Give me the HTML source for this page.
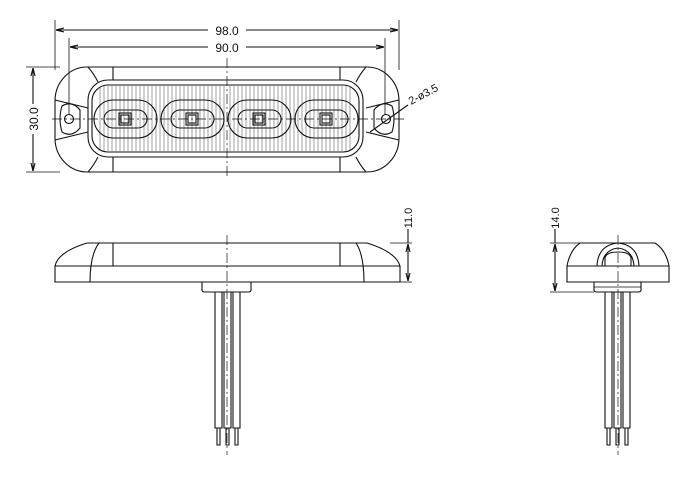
<!DOCTYPE html>
<html><head><style>html,body{margin:0;padding:0;background:#fff}svg{display:block}</style></head>
<body>
<svg width="695" height="478" viewBox="0 0 695 478" xmlns="http://www.w3.org/2000/svg" fill="none" stroke="#111" stroke-width="1.1" font-family="Liberation Sans, sans-serif">
<defs>
<marker id="a" markerWidth="8" markerHeight="6" refX="8" refY="3" orient="auto-start-reverse" markerUnits="userSpaceOnUse"><path d="M0,1 L8,3 L0,5" stroke="#111" fill="none"/></marker>
</defs>
<line x1="55" y1="20" x2="55" y2="70" stroke-width="0.8"/>
<line x1="399" y1="20" x2="399" y2="70" stroke-width="0.8"/>
<line x1="69" y1="38" x2="69" y2="115" stroke-width="0.8"/>
<line x1="385" y1="38" x2="385" y2="115" stroke-width="0.8"/>
<line x1="56" y1="30" x2="208" y2="30" marker-start="url(#a)"/>
<line x1="246" y1="30" x2="398" y2="30" marker-end="url(#a)"/>
<line x1="70" y1="47" x2="208" y2="47" marker-start="url(#a)"/>
<line x1="246" y1="47" x2="384" y2="47" marker-end="url(#a)"/>
<text x="227" y="35" font-size="12" text-anchor="middle" fill="#111" stroke="none">98.0</text>
<text x="227" y="52" font-size="12" text-anchor="middle" fill="#111" stroke="none">90.0</text>
<line x1="26" y1="67" x2="60" y2="67" stroke-width="0.8"/>
<line x1="26" y1="172" x2="60" y2="172" stroke-width="0.8"/>
<line x1="33" y1="68" x2="33" y2="104" marker-start="url(#a)"/>
<line x1="33" y1="134" x2="33" y2="171" marker-end="url(#a)"/>
<text transform="translate(38,119) rotate(-90)" font-size="12" text-anchor="middle" fill="#111" stroke="none">30.0</text>
<rect x="55" y="67" width="344" height="105" rx="32" ry="34"/>
<line x1="113" y1="67" x2="113" y2="80"/><line x1="340" y1="67" x2="340" y2="80"/>
<line x1="113" y1="157" x2="113" y2="172"/><line x1="340" y1="157" x2="340" y2="172"/>
<path d="M88,67 Q94,74 98,82 M88,172 Q94,165 98,157 M366,67 Q360,74 356,82 M366,172 Q360,165 356,157"/>
<path d="M55,100 L88,108 M55,140 L88,132 M399,100 L366,108 M399,140 L366,132"/>
<path d="M62,106 Q58,119 62,132 Q72,138 80,128 L80,110 Q72,100 62,106 Z"/>
<path d="M392,106 Q396,119 392,132 Q382,138 374,128 L374,110 Q382,100 392,106 Z"/>
<circle cx="69" cy="119" r="4.5"/><circle cx="386" cy="119" r="4.5"/>
<rect x="88" y="80" width="275" height="77" rx="20"/>
<rect x="92" y="85" width="267" height="67" rx="16"/>
<g stroke-width="0.5" stroke="#444">
<path d="M100,86V151 M104,86V151 M108,86V151 M112,86V151 M116,86V151 M120,86V151 M124,86V151 M128,86V151 M132,86V151 M136,86V151 M140,86V151 M144,86V151 M148,86V151 M152,86V151 M156,86V151 M160,86V151 M164,86V151 M168,86V151 M172,86V151 M176,86V151 M180,86V151 M184,86V151 M188,86V151 M192,86V151 M196,86V151 M200,86V151 M204,86V151 M208,86V151 M212,86V151 M216,86V151 M220,86V151 M224,86V151 M230,86V151 M234,86V151 M238,86V151 M242,86V151 M246,86V151 M250,86V151 M254,86V151 M258,86V151 M262,86V151 M266,86V151 M270,86V151 M274,86V151 M278,86V151 M282,86V151 M286,86V151 M290,86V151 M294,86V151 M298,86V151 M302,86V151 M306,86V151 M310,86V151 M314,86V151 M318,86V151 M322,86V151 M326,86V151 M330,86V151 M334,86V151 M338,86V151 M342,86V151 M346,86V151 M350,86V151"/>
</g>
<g>
<rect x="94" y="100" width="63" height="38" rx="19"/>
<rect x="104" y="110" width="43" height="18" rx="9"/>
<rect x="119" y="113" width="12" height="12"/><rect x="121" y="115" width="8" height="8"/>
<rect x="161" y="100" width="63" height="38" rx="19"/>
<rect x="171" y="110" width="43" height="18" rx="9"/>
<rect x="186" y="113" width="12" height="12"/><rect x="188" y="115" width="8" height="8"/>
<rect x="228" y="100" width="63" height="38" rx="19"/>
<rect x="238" y="110" width="43" height="18" rx="9"/>
<rect x="253" y="113" width="12" height="12"/><rect x="255" y="115" width="8" height="8"/>
<rect x="295" y="100" width="63" height="38" rx="19"/>
<rect x="305" y="110" width="43" height="18" rx="9"/>
<rect x="320" y="113" width="12" height="12"/><rect x="322" y="115" width="8" height="8"/>
</g>
<path d="M227,58V178 M52,119H405" stroke-width="0.7" stroke-dasharray="10,3,2,3"/>
<line x1="370" y1="132" x2="408" y2="105"/>
<text transform="translate(411,105) rotate(-28)" font-size="11" fill="#111" stroke="none">2-ø3.5</text>
<path d="M55,282 V266 Q58,252 87,243 H367 Q396,252 400,266 V282 Z"/>
<line x1="55" y1="266" x2="400" y2="266"/>
<path d="M99,243 Q90,255 90,282 M356,243 Q364,255 364,282"/>
<line x1="113" y1="243" x2="113" y2="266"/><line x1="340" y1="243" x2="340" y2="266"/>
<path d="M202,282 V290 Q202,292 205,292 H248 Q251,292 251,290 V282"/>
<path d="M215,292V428H222V292 M224,292V428H231V292 M233,292V428H240V292"/>
<path d="M217,428V445H220V428 M226,428V445H229V428 M235,428V445H238V428"/>
<path d="M227,235V455" stroke-width="0.7" stroke-dasharray="10,3,2,3"/>
<line x1="390" y1="243" x2="412" y2="243" stroke-width="0.8"/>
<line x1="400" y1="282" x2="412" y2="282" stroke-width="0.8"/>
<line x1="408" y1="244" x2="408" y2="281" marker-start="url(#a)" marker-end="url(#a)"/>
<line x1="408" y1="229" x2="408" y2="243"/>
<text transform="translate(412,218) rotate(-90)" font-size="11" text-anchor="middle" fill="#111" stroke="none">11.0</text>
<path d="M567,282 V266 Q570,250 580,243 H655 Q666,250 669,266 V282 Z"/>
<line x1="567" y1="266" x2="669" y2="266"/>
<path d="M597,266 Q598,245 618,243 Q638,245 639,266 M602,266 Q603,250 618,248 Q633,250 634,266 M605,266 V258 Q606,252 618,252 Q630,252 631,258 V266"/>
<path d="M594,282 V290 Q594,292 597,292 H638 Q641,292 641,290 V282"/>
<line x1="594" y1="287" x2="641" y2="287" stroke-width="0.7"/>
<path d="M605,292V428H612V292 M614,292V428H621V292 M623,292V428H630V292"/>
<path d="M607,428V445H610V428 M616,428V445H619V428 M625,428V445H628V428"/>
<path d="M618,235V455" stroke-width="0.7" stroke-dasharray="10,3,2,3"/>
<line x1="550" y1="243" x2="580" y2="243" stroke-width="0.8"/>
<line x1="550" y1="292" x2="594" y2="292" stroke-width="0.8"/>
<line x1="555" y1="244" x2="555" y2="291" marker-start="url(#a)" marker-end="url(#a)"/>
<line x1="555" y1="229" x2="555" y2="243"/>
<text transform="translate(559,218) rotate(-90)" font-size="11" text-anchor="middle" fill="#111" stroke="none">14.0</text>
</svg>
</body></html>
